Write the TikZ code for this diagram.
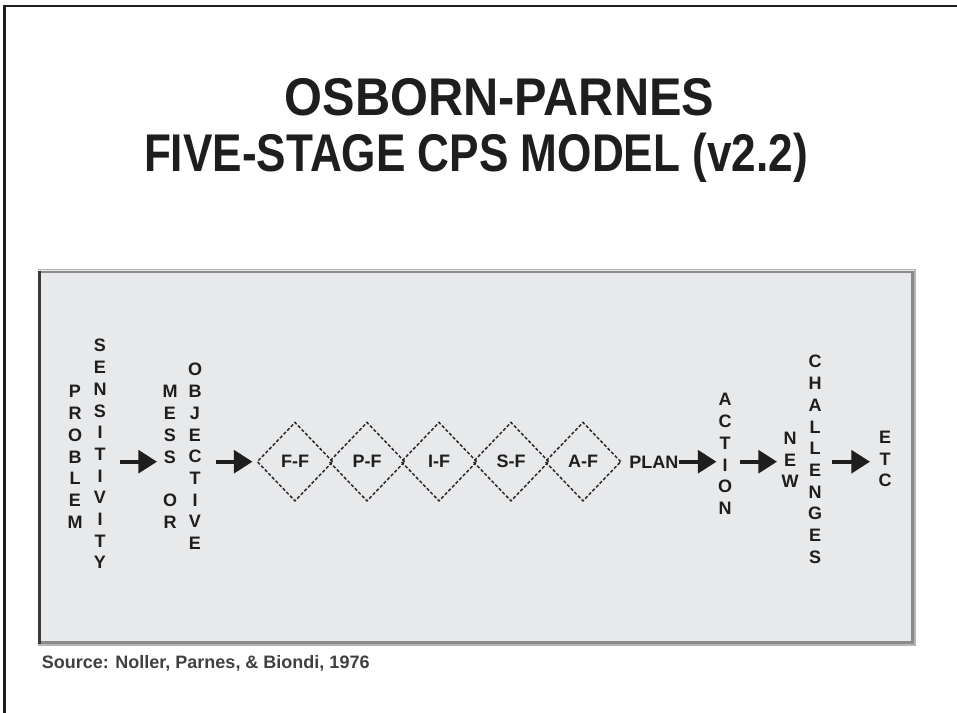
\documentclass[tikz,border=0pt]{standalone}
\usepackage{fontspec}
\usepackage{graphicx}
\setmainfont{Liberation Sans}
\usetikzlibrary{arrows.meta,shapes.geometric}
\definecolor{boxfill}{HTML}{E8E9EB}
\definecolor{edgegray}{HTML}{8A8A8C}
\definecolor{edgelight}{HTML}{B4B5B7}
\definecolor{edgedark}{HTML}{3A3A3A}
\definecolor{ink}{HTML}{1E1E1E}
\newcommand\vcol[4]{\foreach \ch [count=\i] in {#4}{\node[vletter] (#1-\i) at (#2,{#3+(\i-1)*21.7}) {\ch};}}
\begin{document}
\begin{tikzpicture}[x=0.75pt,y=-0.75pt,
  vletter/.style={font=\fontsize{13.5}{14}\selectfont\bfseries, inner sep=0pt, text height=9.7pt, text depth=0pt, text=ink},
  flow/.style={line width=3pt, -{Triangle[length=14pt,width=17pt]}, draw=ink},
  stage/.style={diamond, draw=black!85, dash pattern=on 2.4pt off 1.5pt, line width=1.1pt,
    minimum width=57pt, minimum height=59.25pt, inner sep=0pt,
    font=\fontsize{13.5}{14}\selectfont\bfseries, text=ink},
  titletext/.style={font=\fontsize{39.8}{44}\selectfont\bfseries, text=ink, anchor=base, inner sep=0pt}]
% canvas
\fill[white] (0,0) rectangle (957,713);
\useasboundingbox (0,0) rectangle (957,713);
% outer frame
\draw[line width=1.8pt, draw=ink] (4.5,713) -- (4.5,6) -- (957,6);
% title
\node[titletext] (t1) at (499.5,116) {\scalebox{0.918}[1]{OSBORN-PARNES}};
\node[titletext] (t2) at (476,172) {\scalebox{0.832}[1]{FIVE-STAGE CPS MODEL (v2.2)}};
% gray panel
\fill[boxfill] (38,269) rectangle (915,645);
\draw[line width=1.2pt, draw=edgelight] (38,269.5) -- (915,269.5) -- (915,645) -- (38,645);
\draw[line width=2.2pt, draw=edgegray] (38,272) -- (912.5,272) -- (912.5,642.5) -- (38,642.5);
\draw[line width=2.4pt, draw=edgedark] (39.5,270.5) -- (39.5,644);
% letter columns
\vcol{prob}{75}{391.5}{P,R,O,B,L,E,M}
\vcol{sens}{100}{345.5}{S,E,N,S,I,T,I,V,I,T,Y}
\vcol{mess}{170}{391.5}{M,E,S,S,{},O,R}
\vcol{obj}{195}{369.5}{O,B,J,E,C,T,I,V,E}
\vcol{act}{725}{399.5}{A,C,T,I,O,N}
\vcol{new}{790}{438}{N,E,W}
\vcol{chal}{815}{361.5}{C,H,A,L,L,E,N,G,E,S}
\vcol{etc}{885}{437}{E,T,C}
% diamonds
\foreach \t [count=\i] in {F-F,P-F,I-F,S-F,A-F}
  \node[stage] (d\i) at ({295+72*(\i-1)},461.7) {\t};
% plan
\node[vletter, anchor=west] (plan) at (629,461.7) {PLAN};
% arrow end points
\coordinate (a1s) at (120,461.7); \coordinate (a1e) at (157,461.7);
\coordinate (a2s) at (216,461.7); \coordinate (a2e) at (252.5,461.7);
\coordinate (a3e) at (716.5,461.7);
\coordinate (a4s) at (740,461.7); \coordinate (a4e) at (777,461.7);
\coordinate (a5s) at (831.5,461.7); \coordinate (a5e) at (870,461.7);
\draw[flow] (a1s) -- (a1e);
\draw[flow] (a2s) -- (a2e);
\draw[flow] (plan.east) -- (a3e);
\draw[flow] (a4s) -- (a4e);
\draw[flow] (a5s) -- (a5e);
% source
\node[font=\fontsize{13.5}{15}\selectfont\bfseries, text=ink!85, anchor=base west, inner sep=0pt] (src) at (41.5,668) {Source: Noller, Parnes, \& Biondi, 1976};
\end{tikzpicture}
\end{document}
